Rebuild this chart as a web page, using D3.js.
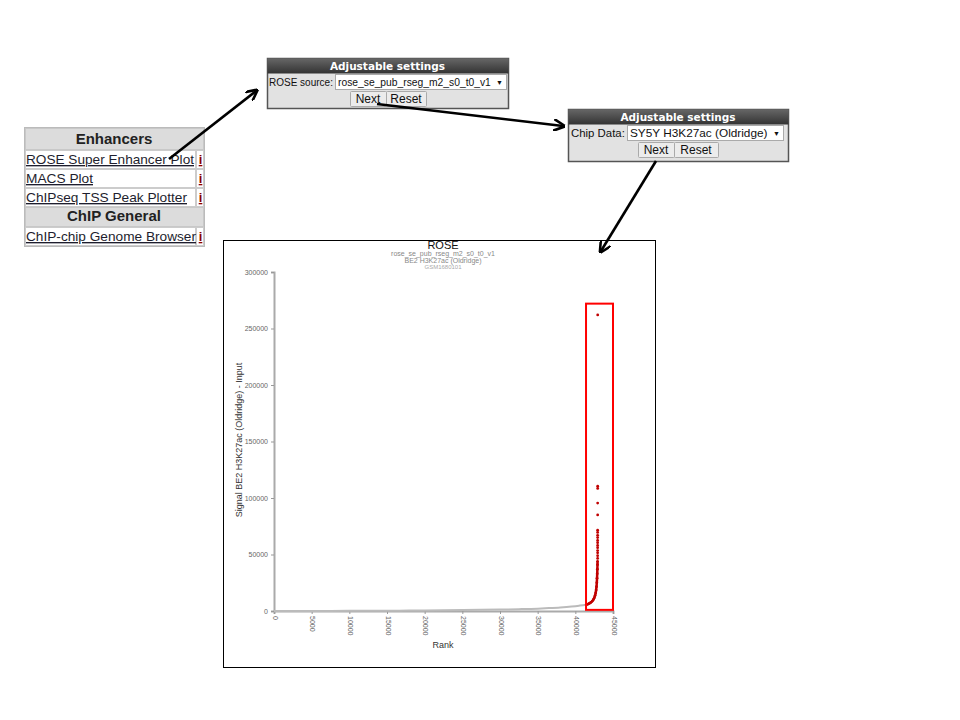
<!DOCTYPE html>
<html><head><meta charset="utf-8">
<script src="https://cdn.jsdelivr.net/npm/d3@7"></script>
<style>body{margin:0;background:#fff}svg{display:block}</style>
</head><body>
<svg id="c" width="960" height="720"></svg>
<script>
// ---- data ----
const menuHeaders = ["Enhancers", "ChIP General"];
const menuLinks = ["ROSE Super Enhancer Plot", "MACS Plot", "ChIPseq TSS Peak Plotter", "ChIP-chip Genome Browser"];
const settings1 = {label: "ROSE source:", value: "rose_se_pub_rseg_m2_s0_t0_v1"};
const settings2 = {label: "Chip Data:", value: "SY5Y H3K27ac (Oldridge)"};
const chartTitle = "ROSE";
const chartSubtitles = ["rose_se_pub_rseg_m2_s0_t0_v1", "BE2 H3K27ac (Oldridge)", "GSM1680101"];
const yLabel = "Signal BE2 H3K27ac (Oldridge) - Input";
const xLabel = "Rank";
const xTicks = [0,5000,10000,15000,20000,25000,30000,35000,40000,45000];
const yTicks = [0,50000,100000,150000,200000,250000,300000];
// typical enhancers (grey curve)
const grayRank   = [0, 5000, 10000, 15000, 18000, 20000, 22500, 25000, 27500, 30000, 32500, 35000, 36500, 38000, 39500, 40500, 41000, 41450];
const graySignal = [0, 50, 120, 230, 350, 470, 620, 800, 1000, 1250, 1600, 2100, 2600, 3200, 4000, 4700, 5100, 5500];
// super enhancers (red points)
const redRank   = [41450,41650,41850,42050,42250,42400,42520,42620,42700,42760,42810,42850,42880,42905,42925,42940,42950,
                   42960,42960,42960,42960,42960,42960,42960,42960,42960,42960,42960,42960,
                   42965,42965,42968,42968,42970];
const redSignal = [5500,6000,6700,7600,8800,10200,11800,13800,16000,18500,21500,25000,29000,33000,37000,41000,44000,
                   46500,49000,51500,53500,56000,58000,60500,62500,65000,67000,69500,71500,
                   85000,95500,108500,110500,262000];
// highlight box (rank / signal range)
const boxRank = [41420, 45000];
const boxSignal = [1000, 272000];

const svg = d3.select("#c");
const F = "'Liberation Sans', Arial, sans-serif";
svg.append("rect").attr("width",960).attr("height",720).attr("fill","#fff");

// ---- left menu ----
const menu = svg.append("g");
const linkLen = [168, 67, 161, 170];
const rows = [
  {t:"h", text:menuHeaders[0], y0:128, y1:149},
  {t:"l", text:menuLinks[0], y0:150, y1:168, w:linkLen[0]},
  {t:"l", text:menuLinks[1], y0:169, y1:187, w:linkLen[1]},
  {t:"l", text:menuLinks[2], y0:188, y1:206, w:linkLen[2]},
  {t:"h", text:menuHeaders[1], y0:207, y1:226},
  {t:"l", text:menuLinks[3], y0:227, y1:245, w:linkLen[3]}
];
menu.append("rect").attr("x",24.5).attr("y",127.5).attr("width",180).attr("height",119).attr("fill","#fff").attr("stroke","#bbb");
rows.forEach(r=>{
  if(r.t==="h"){
    menu.append("rect").attr("x",25.5).attr("y",r.y0+0.5).attr("width",178).attr("height",r.y1-r.y0).attr("fill","#dcdcdc").attr("stroke","#c8c8c8");
    menu.append("text").attr("x",114).attr("y",r.y1-5).attr("text-anchor","middle").attr("font-family",F)
      .attr("font-size",15).attr("font-weight","bold").attr("fill","#222").text(r.text);
  } else {
    menu.append("rect").attr("x",25.5).attr("y",r.y0+0.5).attr("width",170).attr("height",r.y1-r.y0).attr("fill","#fff").attr("stroke","#ccc");
    menu.append("rect").attr("x",196.5).attr("y",r.y0+0.5).attr("width",7).attr("height",r.y1-r.y0).attr("fill","#fff").attr("stroke","#ccc");
    menu.append("text").attr("x",26).attr("y",r.y1-4).attr("font-family",F).attr("font-size",13.5).attr("fill","#1e1e2e")
      .style("text-decoration","underline").attr("textLength", r.w).attr("lengthAdjust","spacingAndGlyphs").text(r.text);
    menu.append("text").attr("x",200.5).attr("y",r.y1-4).attr("text-anchor","middle").attr("font-family",F).attr("font-size",13)
      .attr("font-weight","bold").attr("fill","#8b0000").style("text-decoration","underline").text("i");
  }
});

// ---- settings boxes ----
function settingsBox(x0,y0,w,h,cfg,labelX,labelFs,selX0,selX1,valFs,nextX0,nextX1,resetX1){
  const g = svg.append("g");
  const gradId = "hg"+x0;
  const grad = svg.append("defs").append("linearGradient").attr("id",gradId).attr("x1",0).attr("x2",0).attr("y1",0).attr("y2",1);
  grad.append("stop").attr("offset","0").attr("stop-color","#666");
  grad.append("stop").attr("offset","1").attr("stop-color","#333");
  g.append("rect").attr("x",x0+0.5).attr("y",y0+0.5).attr("width",w).attr("height",h).attr("fill","#e2e2e2").attr("stroke","#555").attr("stroke-width",1.5);
  g.append("rect").attr("x",x0+0.5).attr("y",y0+0.5).attr("width",w).attr("height",15).attr("fill","url(#"+gradId+")");
  g.append("text").attr("x",x0+w/2).attr("y",y0+12).attr("text-anchor","middle").attr("font-family","'DejaVu Sans',Verdana,sans-serif")
    .attr("font-size",10.5).attr("font-weight","bold").attr("fill","#fff").text("Adjustable settings");
  const sy = y0+16;
  g.append("text").attr("x",labelX).attr("y",sy+11.5).attr("font-family",F).attr("font-size",labelFs).attr("fill","#111").text(cfg.label);
  g.append("rect").attr("x",selX0+0.5).attr("y",sy+0.5).attr("width",selX1-selX0).attr("height",15).attr("fill","#fff").attr("stroke","#aaa");
  g.append("text").attr("x",selX0+3).attr("y",sy+12).attr("font-family",F).attr("font-size",valFs).attr("fill","#111").text(cfg.value);
  g.append("text").attr("x",selX1-3).attr("y",sy+11).attr("text-anchor","end").attr("font-family",F).attr("font-size",7).attr("fill","#111").text("▼");
  const by = sy+17;
  [[nextX0,nextX1,"Next"],[nextX1,resetX1,"Reset"]].forEach(b=>{
    g.append("rect").attr("x",b[0]+0.5).attr("y",by+0.5).attr("width",b[1]-b[0]).attr("height",15).attr("fill","#ececec").attr("stroke","#aaa").attr("rx",1);
    g.append("text").attr("x",(b[0]+b[1])/2).attr("y",by+12).attr("text-anchor","middle").attr("font-family",F).attr("font-size",12).attr("fill","#111").text(b[2]);
  });
}
settingsBox(267,58,241,50,settings1,269,10,335,506,10.3,350,386,426);
settingsBox(568,109,220,52,settings2,571,11.4,627,783,11.8,638,674,718);

// ---- chart ----
svg.append("rect").attr("x",223.5).attr("y",240.5).attr("width",432).attr("height",427).attr("fill","#fff").attr("stroke","#000").attr("stroke-width",1);

const x = d3.scaleLinear().domain([0,45000]).range([274,613]);
const y = d3.scaleLinear().domain([0,300000]).range([611,272]);

const chart = svg.append("g");
chart.append("text").attr("x",443).attr("y",249).attr("text-anchor","middle").attr("font-family",F).attr("font-size",11).attr("fill","#111").text(chartTitle);
chart.selectAll("text.sub").data(chartSubtitles).enter().append("text").attr("class","sub")
  .attr("x",443).attr("y",(d,i)=>256+i*6.5).attr("text-anchor","middle").attr("font-family",F)
  .attr("font-size",(d,i)=>i===2?6:7).attr("fill",(d,i)=>i===2?"#aaa":"#888").text(d=>d);

const xAxis = d3.axisBottom(x).tickValues(xTicks).tickSize(3).tickFormat(d3.format("d"));
const gx = chart.append("g").attr("transform","translate(0,611)").call(xAxis);
gx.select(".domain").attr("stroke","#aaa").attr("stroke-width",2);
gx.selectAll(".tick line").attr("stroke","#999");
gx.selectAll(".tick text").attr("font-family",F).attr("font-size",7).attr("fill","#666")
  .attr("text-anchor","start").attr("dy",0).attr("y",0).attr("x",0)
  .attr("transform","translate(-2,5) rotate(90)");

const yAxis = d3.axisLeft(y).tickValues(yTicks).tickSize(3).tickFormat(d3.format("d"));
const gy = chart.append("g").attr("transform","translate(274,0)").call(yAxis);
gy.select(".domain").attr("stroke","#aaa").attr("stroke-width",2);
gy.selectAll(".tick line").attr("stroke","#999");
gy.selectAll(".tick text").attr("font-family",F).attr("font-size",7).attr("fill","#666");

chart.append("text").attr("transform","translate(242,440) rotate(-90)").attr("text-anchor","middle").attr("font-family",F)
  .attr("font-size",9).attr("fill","#333").text(yLabel);
chart.append("text").attr("x",443).attr("y",648).attr("text-anchor","middle").attr("font-family",F).attr("font-size",9).attr("fill","#333").text(xLabel);

// grey curve
const grayData = grayRank.map((r,i)=>({r, s:graySignal[i]}));
chart.append("path").datum(grayData).attr("fill","none").attr("stroke","#bbb").attr("stroke-width",2)
  .attr("d", d3.line().x(d=>x(d.r)).y(d=>y(d.s)).curve(d3.curveMonotoneX));

// red points
const redData = redRank.map((r,i)=>({r, s:redSignal[i]}));
chart.append("path").datum(redData.slice(0,17)).attr("fill","none").attr("stroke","#c00000").attr("stroke-width",2.5)
  .attr("d", d3.line().x(d=>x(d.r)).y(d=>y(d.s)).curve(d3.curveMonotoneY));
chart.selectAll("circle.se").data(redData).enter().append("circle").attr("class","se")
  .attr("cx",d=>x(d.r)).attr("cy",d=>y(d.s)).attr("r",1.4).attr("fill","#c00000");

// highlight box
chart.append("rect").attr("x",x(boxRank[0])).attr("y",y(boxSignal[1])).attr("width",x(boxRank[1])-x(boxRank[0]))
  .attr("height",y(boxSignal[0])-y(boxSignal[1])).attr("fill","none").attr("stroke","#ff0000").attr("stroke-width",2);

// ---- arrows ----
const defs = svg.append("defs");
defs.append("marker").attr("id","ah").attr("viewBox","0 0 10 10").attr("refX",8).attr("refY",5)
  .attr("markerWidth",4.5).attr("markerHeight",4.5).attr("orient","auto").attr("markerUnits","strokeWidth")
  .append("path").attr("d","M0,0 L10,5 L0,10").attr("fill","none").attr("stroke","#000").attr("stroke-width",2.2);
const arrows = [[[169,159],[256,91]],[[377,104],[563,126]],[[656,161],[601,251]]];
arrows.forEach(a=>{
  svg.append("line").attr("x1",a[0][0]).attr("y1",a[0][1]).attr("x2",a[1][0]).attr("y2",a[1][1])
    .attr("stroke","#000").attr("stroke-width",2.6).attr("marker-end","url(#ah)");
});
</script>
</body></html>
